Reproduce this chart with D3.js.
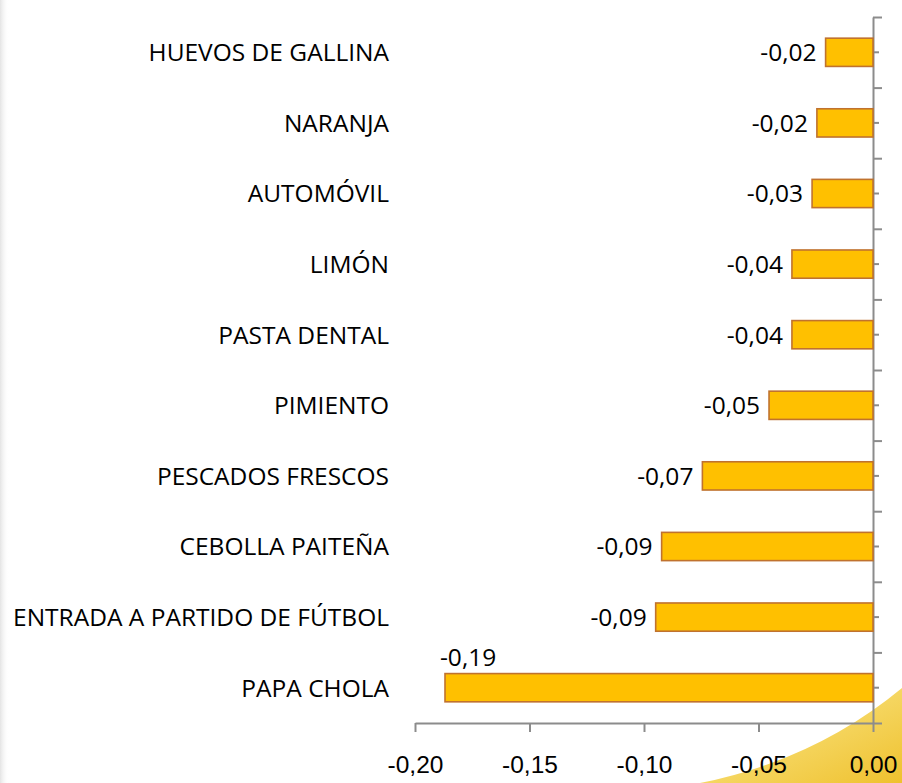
<!DOCTYPE html>
<html>
<head>
<meta charset="utf-8">
<script src="https://cdn.jsdelivr.net/npm/d3@7"></script>
<style>
  html,body{margin:0;padding:0;background:#fff;}
  svg{display:block;font-family:'Open Sans',sans-serif;}
  .axis path,.axis line{stroke:#8c8c8c;stroke-width:2;}
</style>
</head>
<body>
<div id="chart"></div>
<script>
// data (top to bottom)
const categories = ['HUEVOS DE GALLINA','NARANJA','AUTOMÓVIL','LIMÓN','PASTA DENTAL','PIMIENTO',
  'PESCADOS FRESCOS','CEBOLLA PAITEÑA','ENTRADA A PARTIDO DE FÚTBOL','PAPA CHOLA'];
const values = [-0.0207,-0.0245,-0.0266,-0.0354,-0.0354,-0.0454,-0.0745,-0.0923,-0.0949,-0.1869];
const xTicks = [-0.20,-0.15,-0.10,-0.05,0.00];

const W=902,H=783;
const M={t:17,r:29,b:60,l:415};
const iw=W-M.l-M.r, ih=H-M.t-M.b;
const loc=d3.formatLocale({decimal:',',thousands:'.',grouping:[3],currency:['',''],minus:'-'});
const fmt=loc.format('.2f');

const svg=d3.select('#chart').append('svg').attr('width',W).attr('height',H);

// backdrop: grey left strip + yellow swoosh bottom right
const defs=svg.append('defs');
const lg=defs.append('linearGradient').attr('id','edge').attr('x1',0).attr('x2',1);
lg.append('stop').attr('offset',0).attr('stop-color','#e4e4e4');
lg.append('stop').attr('offset',1).attr('stop-color','#fff').attr('stop-opacity',0);
svg.append('rect').attr('width',9).attr('height',H).attr('fill','url(#edge)');
const sg=defs.append('linearGradient').attr('id','sw').attr('x1',0).attr('y1',0).attr('x2',1).attr('y2',1);
sg.append('stop').attr('offset',0).attr('stop-color','#fff8e0').attr('stop-opacity',0.2);
sg.append('stop').attr('offset',0.45).attr('stop-color','#f6d968');
sg.append('stop').attr('offset',1).attr('stop-color','#efc12e');
svg.append('path').attr('d',`M700,${H} Q815,760 ${W},688 L${W},${H} Z`).attr('fill','url(#sw)');

const g=svg.append('g').attr('transform',`translate(${M.l},${M.t})`);
const x=d3.scaleLinear().domain([-0.20,0]).range([0,iw]);
const y=d3.scaleBand().domain(categories).range([0,ih]).paddingInner(0.6).paddingOuter(0.3);
const yIdx=d3.scaleLinear().domain([0,categories.length]).range([0,ih]);

// x axis
const gx=g.append('g').attr('class','axis').attr('transform',`translate(0,${ih})`)
  .call(d3.axisBottom(x).tickValues(xTicks).tickSize(9).tickSizeOuter(0).tickFormat(fmt));
gx.selectAll('text').attr('fill','#000').style('font-size','24.5px').attr('dy','1.55em');
gx.selectAll('.tick line').attr('y2',9);

// y axis at x=0, ticks to the right
const gy=g.append('g').attr('class','axis').attr('transform',`translate(${x(0)},0)`);
gy.call(d3.axisRight(yIdx).tickValues(d3.range(0,categories.length+1)).tickSize(9).tickSizeOuter(0).tickFormat(''));
gy.append('g').call(d3.axisRight(y).tickSize(6).tickSizeOuter(0).tickFormat(''))
  .call(s=>s.select('.domain').remove());

// bars
g.append('g').selectAll('rect').data(values).join('rect')
  .attr('x',d=>x(d)).attr('width',d=>x(0)-x(d))
  .attr('y',(d,i)=>y(categories[i])).attr('height',y.bandwidth())
  .attr('fill','#ffc000').attr('stroke','#c0722e').attr('stroke-width',1.6);

// category labels
g.append('g').selectAll('text').data(categories).join('text')
  .attr('x',-26).attr('y',d=>y(d)+y.bandwidth()/2).attr('dy','0.36em')
  .attr('text-anchor','end').style('font-size','24.5px').attr('fill','#000').text(d=>d);

// value labels
const last=values.length-1;
g.append('g').selectAll('text').data(values).join('text')
  .attr('x',(d,i)=>i===last?x(d)-5:x(d)-9)
  .attr('y',(d,i)=>i===last?y(categories[i])-8:y(categories[i])+y.bandwidth()/2)
  .attr('dy',(d,i)=>i===last?0:'0.36em')
  .attr('text-anchor',(d,i)=>i===last?'start':'end')
  .style('font-size','24.5px').attr('fill','#000').text(d=>fmt(d));
</script>
</body>
</html>
